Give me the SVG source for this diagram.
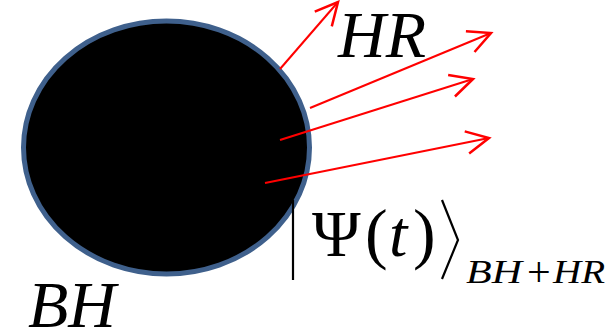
<svg xmlns="http://www.w3.org/2000/svg" width="615" height="331" viewBox="0 0 615 331">
<defs>
<style>
.ray{stroke:#FF0000;stroke-width:2;fill:none}
.it{font-family:"Liberation Serif","Times New Roman",serif;font-style:italic;fill:#000}
.up{font-family:"Liberation Serif","Times New Roman",serif;fill:#000}
.ket{stroke:#000;stroke-width:2.2;fill:none}
</style>
<marker id="ah" markerUnits="userSpaceOnUse" markerWidth="30" markerHeight="30" refX="0" refY="0" viewBox="-20 -12 24 24" orient="auto" overflow="visible">
<path d="M-18,-9 L0,0 L-18,9" stroke="#FF0000" stroke-width="2" fill="none"/>
</marker>
</defs>
<rect width="615" height="331" fill="#fff"/>
<g id="blackhole">
<ellipse cx="166.5" cy="147.5" rx="143" ry="126.5" fill="#000" stroke="#3F608C" stroke-width="5"/>
</g>
<g id="connectors">
<line class="ray" x1="280" y1="69" x2="338" y2="2" marker-end="url(#ah)"/>
<line class="ray" x1="310" y1="108" x2="491" y2="33" marker-end="url(#ah)"/>
<line class="ray" x1="280" y1="140" x2="473" y2="79" marker-end="url(#ah)"/>
<line class="ray" x1="265" y1="183" x2="489" y2="138" marker-end="url(#ah)"/>
</g>
<g id="label-HR">
<text class="it" x="338" y="57" font-size="66">HR</text>
</g>
<g id="label-BH">
<text class="it" x="28" y="327" font-size="66">BH</text>
</g>
<g id="state">
<line class="ket" x1="293" y1="200" x2="293" y2="280"/>
<text class="up" x="312" y="256" font-size="66">Ψ</text>
<text class="up" x="365" y="256" font-size="68">(</text>
<text class="it" x="389" y="256" font-size="66">t</text>
<text class="up" x="413" y="256" font-size="68">)</text>
<polyline class="ket" points="442,200 458,240 442,279"/>
<text class="it" x="466" y="283" font-size="34" textLength="56" lengthAdjust="spacingAndGlyphs">BH</text>
<text class="up" x="527" y="286" font-size="42">+</text>
<text class="it" x="553" y="283" font-size="34" textLength="52" lengthAdjust="spacingAndGlyphs">HR</text>
</g>
</svg>
